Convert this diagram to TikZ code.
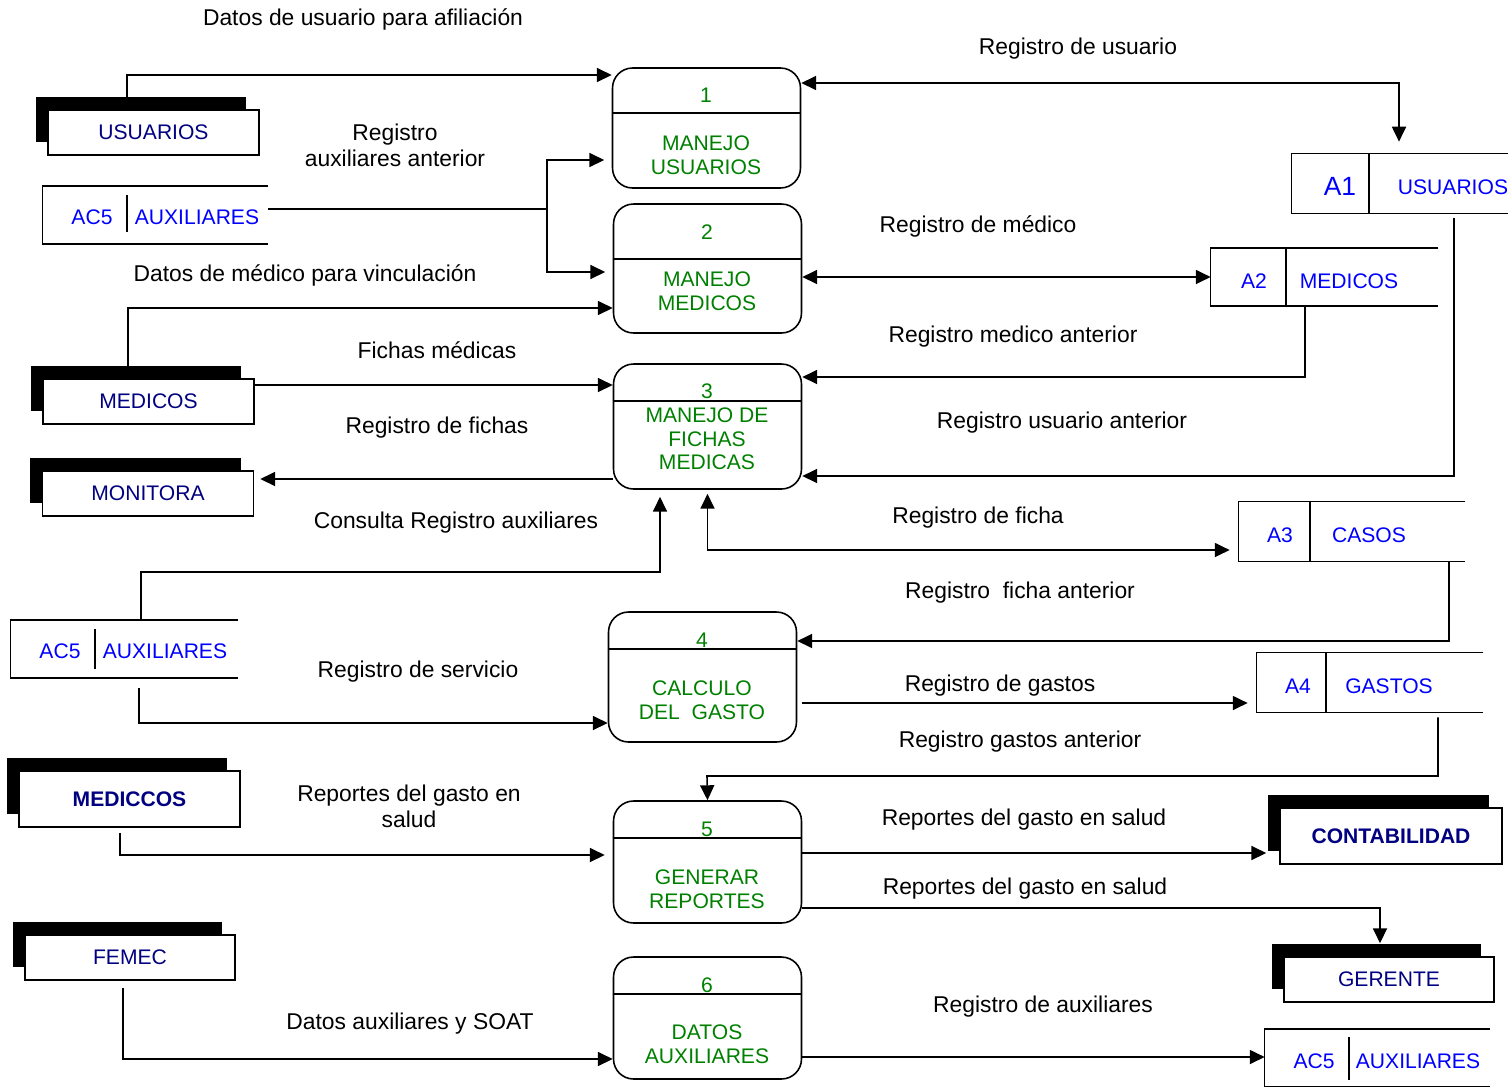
\documentclass[tikz,border=0pt]{standalone}
\usepackage{fontspec}
\setmainfont{Liberation Sans}
\usetikzlibrary{arrows.meta,shadows,positioning}
\definecolor{procgreen}{RGB}{0,128,0}
\definecolor{entnavy}  {RGB}{0,0,128}
\definecolor{storeblue}{RGB}{0,0,255}
\tikzset{
  procbox/.style ={draw, rounded corners=0.4cm, line width=0.9pt,
                   minimum width=3.76cm, minimum height=#1, inner sep=0pt},
  procbox/.default=2.44cm,
  proctxt/.style ={text=procgreen, align=center, inner sep=0pt,
                   font=\fontsize{12}{13.5}\selectfont},
  entbox/.style  ={draw, fill=white, line width=0.9pt, minimum width=4.22cm,
                   minimum height=0.9cm, text=entnavy,
                   font=\fontsize{12}{14}\selectfont,
                   general shadow={fill=black, shadow xshift=-0.25cm,
                                   shadow yshift=0.27cm}},
  storebox/.style={minimum width=#1, minimum height=1.14cm, inner sep=0pt},
  storetxt/.style={text=storeblue, inner sep=0pt,
                   font=\fontsize{12}{14}\selectfont},
  lbl/.style     ={align=center, inner sep=0pt,
                   font=\fontsize{13}{14.7}\selectfont},
  ln/.style      ={line width=0.9pt},
  arr/.style     ={-{Triangle[length=8.5pt,width=8pt]}, line width=0.9pt},
  darr/.style    ={{Triangle[length=8.5pt,width=8pt]}-{Triangle[length=8.5pt,width=8pt]},
                   line width=0.9pt},
}
\begin{document}
\begin{tikzpicture}[x=0.02cm, y=-0.02cm]
  \useasboundingbox (0,0) rectangle (1508,1086);

  % processes
  \node[procbox=2.4cm]  (p1) at (706.5,128)  {};
  \node[procbox=2.58cm] (p2) at (707.5,268.5){};
  \node[procbox=2.5cm]  (p3) at (707.5,426.5){};
  \node[procbox=2.6cm]  (p4) at (702.5,677)  {};
  \node[procbox]        (p5) at (707.5,862)  {};
  \node[procbox]        (p6) at (707.5,1018) {};
  \draw[ln] (p1.west |- 0,113) -- (p1.east |- 0,113);
  \draw[ln] (p2.west |- 0,259) -- (p2.east |- 0,259);
  \draw[ln] (p3.west |- 0,401) -- (p3.east |- 0,401);
  \draw[ln] (p4.west |- 0,649) -- (p4.east |- 0,649);
  \draw[ln] (p5.west |- 0,838) -- (p5.east |- 0,838);
  \draw[ln] (p6.west |- 0,994) -- (p6.east |- 0,994);
  \node[proctxt] (n1) at (706,95)  {1};
  \node[proctxt] (n2) at (707,232) {2};
  \node[proctxt] (n3) at (707,391) {3};
  \node[proctxt] (n4) at (702,640) {4};
  \node[proctxt] (n5) at (707,829) {5};
  \node[proctxt] (n6) at (707,985) {6};
  \node[proctxt] (t1) at (706,155)  {MANEJO\\USUARIOS};
  \node[proctxt] (t2) at (707,291)  {MANEJO\\MEDICOS};
  \node[proctxt] (t3) at (707,439)  {MANEJO DE\\FICHAS\\MEDICAS};
  \node[proctxt] (t4) at (702,700)  {CALCULO\\DEL\ \ GASTO};
  \node[proctxt] (t5) at (707,889)  {GENERAR\\REPORTES};
  \node[proctxt] (t6) at (707,1044) {DATOS\\AUXILIARES};

  % external entities
  \node[entbox] (eusu) at (153.5,132.5) {USUARIOS};
  \node[entbox] (emed) at (148.5,401.5) {MEDICOS};
  \node[entbox] (emon) at (148,493.5)   {MONITORA};
  \node[entbox, minimum width=4.42cm, minimum height=1.12cm,
        font=\fontsize{12}{14}\selectfont\bfseries] (emdc) at (129.5,799) {MEDICCOS};
  \node[entbox, minimum width=4.2cm] (efem) at (130,957.5) {FEMEC};
  \node[entbox, minimum width=4.44cm, minimum height=1.12cm,
        font=\fontsize{12}{14}\selectfont\bfseries] (econ) at (1391,836) {CONTABILIDAD};
  \node[entbox, minimum width=4.2cm] (eger) at (1389,979.5) {GERENTE};

  % data stores
  \node[storebox=4.32cm, minimum height=1.18cm] (a1) at (1400,183.5) {};
  \node[storebox=4.54cm] (a2)   at (1324.5,277) {};
  \node[storebox=4.5cm]  (ac5a) at (155.5,215)  {};
  \node[storebox=4.52cm, minimum height=1.18cm] (a3) at (1352,531.5) {};
  \node[storebox=4.54cm] (ac5b) at (124.5,649)  {};
  \node[storebox=4.52cm, minimum height=1.18cm] (a4) at (1370,682.5) {};
  \node[storebox=4.5cm]  (ac5c) at (1377.5,1058) {};
  \foreach \s in {a1,a2,ac5a,a3,ac5b,a4,ac5c}
    \draw[ln] (\s.north east) -- (\s.north west) -- (\s.south west) -- (\s.south east);
  \draw[ln] (1369,0 |- a1.north) -- (1369,0 |- a1.south);
  \draw[ln] (1286,0 |- a2.north) -- (1286,0 |- a2.south);
  \draw[ln] (1310,0 |- a3.north) -- (1310,0 |- a3.south);
  \draw[ln] (1326,0 |- a4.north) -- (1326,0 |- a4.south);
  \draw[ln] (127,195)   -- (127,232);
  \draw[ln] (95,629)    -- (95,669);
  \draw[ln] (1349,1037) -- (1349,1080);
  \node[storetxt, font=\fontsize{15}{17}\selectfont] (a1id) at (1340,186) {A1};
  \node[storetxt] (a1nm)  at (1453,187)  {USUARIOS};
  \node[storetxt] (a2id)  at (1254,281)  {A2};
  \node[storetxt] (a2nm)  at (1349,281)  {MEDICOS};
  \node[storetxt] (c5aid) at (92,217)    {AC5};
  \node[storetxt] (c5anm) at (197,217)   {AUXILIARES};
  \node[storetxt] (a3id)  at (1280,535)  {A3};
  \node[storetxt] (a3nm)  at (1369,535)  {CASOS};
  \node[storetxt] (c5bid) at (60,651)    {AC5};
  \node[storetxt] (c5bnm) at (165,651)   {AUXILIARES};
  \node[storetxt] (a4id)  at (1298,686)  {A4};
  \node[storetxt] (a4nm)  at (1389,686)  {GASTOS};
  \node[storetxt] (c5cid) at (1314,1061) {AC5};
  \node[storetxt] (c5cnm) at (1418,1061) {AUXILIARES};

  % flow labels
  \node[lbl] (l1)  at (363,19)   {Datos de usuario para afiliación};
  \node[lbl] (l2)  at (1078,49)  {Registro de usuario};
  \node[lbl] (l3)  at (395,145)  {Registro\\auxiliares anterior};
  \node[lbl] (l4)  at (305,275)  {Datos de médico para vinculación};
  \node[lbl] (l5)  at (978,226)  {Registro de médico};
  \node[lbl] (l6)  at (1013,337) {Registro medico anterior};
  \node[lbl] (l7)  at (437,350)  {Fichas médicas};
  \node[lbl] (l8)  at (437,428)  {Registro de fichas};
  \node[lbl] (l9)  at (1062,423) {Registro usuario anterior};
  \node[lbl] (l10) at (456,523)  {Consulta Registro auxiliares};
  \node[lbl] (l11) at (978,518)  {Registro de ficha};
  \node[lbl] (l12) at (1020,593) {Registro\ \ ficha anterior};
  \node[lbl] (l13) at (418,672)  {Registro de servicio};
  \node[lbl] (l14) at (1000,686) {Registro de gastos};
  \node[lbl] (l15) at (1020,742) {Registro gastos anterior};
  \node[lbl] (l16) at (409,806)  {Reportes del gasto en\\salud};
  \node[lbl] (l17) at (1024,820) {Reportes del gasto en salud};
  \node[lbl] (l18) at (1025,889) {Reportes del gasto en salud};
  \node[lbl] (l19) at (410,1024) {Datos auxiliares y SOAT};
  \node[lbl] (l20) at (1043,1007){Registro de auxiliares};

  % flows
  \coordinate (j1) at (547,209);
  \coordinate (j2) at (660,572);
  \coordinate (j3) at (707,776);
  \draw[arr] (eusu.north -| 127,0) |- (p1.west |- 0,75);
  \draw[darr, shorten >=0.24cm] (p1.east |- 0,83) -| (a1.north -| 1399,0);
  \draw[ln] (ac5a.east |- j1) -- (j1);
  \draw[arr, shorten >=0.15cm] (j1) |- (p1.west |- 0,160);
  \draw[arr, shorten >=0.15cm] (j1) |- (p2.west |- 0,272);
  \draw[arr] (emed.north -| 128,0) |- (p2.west |- 0,308);
  \draw[darr] (p2.east |- 0,277) -- (a2.west |- 0,277);
  \draw[arr] (a2.south -| 1305,0) |- (p3.east |- 0,377);
  \draw[arr, shorten <=0.1cm] (a1.south -| 1454,0) |- (p3.east |- 0,476);
  \draw[arr] (emed.east |- 0,385) -- (p3.west |- 0,385);
  \draw[arr, shorten >=0.12cm] (p3.west |- 0,479) -- (emon.east |- 0,479);
  \draw[arr, shorten >=0.14cm] (ac5b.north -| 141,0) |- (j2) -- (p3.south -| j2);
  \draw[darr, shorten <=0.08cm, shorten >=0.18cm] (p3.south) |- (a3.west |- 0,550);
  \draw[arr] (a3.south -| 1449,0) |- (p4.east |- 0,641);
  \draw[arr, shorten <=0.2cm] (ac5b.south -| 139,0) |- (p4.west |- 0,723);
  \draw[arr, shorten <=0.1cm, shorten >=0.18cm] (p4.east |- 0,703) -- (a4.west |- 0,703);
  \draw[arr, shorten <=0.1cm] (a4.south -| 1438,0) |- (j3) -- (p5.north);
  \draw[arr, shorten <=0.1cm, shorten >=0.16cm] (emdc.south -| 120,0) |- (p5.west |- 0,855);
  \draw[arr, shorten >=0.26cm] (p5.east |- 0,853) -- (econ.west |- 0,853);
  \draw[arr, shorten >=0.26cm] (p5.east |- 0,908) -| (eger.north -| 1380,0);
  \draw[arr, shorten <=0.14cm] (efem.south -| 123,0) |- (p6.west |- 0,1059);
  \draw[arr] (p6.east |- 0,1057) -- (ac5c.west |- 0,1057);
\end{tikzpicture}
\end{document}
